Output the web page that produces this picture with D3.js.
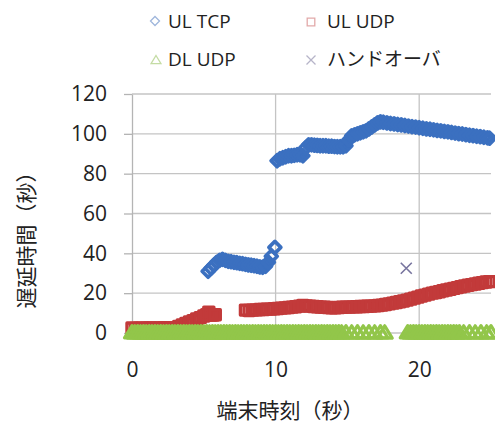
<!DOCTYPE html>
<html>
<head>
<meta charset="utf-8">
<script src="https://cdn.jsdelivr.net/npm/d3@7"></script>
<style>
  html, body { margin: 0; padding: 0; background: #fff; }
  svg { display: block; }
</style>
</head>
<body>
<svg id="chart" width="495" height="432"></svg>
<script>
// Delay (s) against terminal time (s), one [time, delay] pair per sample.
const ulTcp = [
  [5.3,31],[5.5,32.5],[5.7,34],[5.9,35.5],[6.1,36.5],[6.3,37],[6.5,36.5],[6.7,36],
  [6.9,35.8],[7.1,35.5],[7.3,35.3],[7.5,35],[7.7,34.8],[7.9,34.5],[8.1,34.2],[8.3,34],
  [8.5,33.8],[8.7,33.5],[8.9,33.2],[9.1,33],[9.3,33.5],[9.5,35.5],[9.7,38.5],[9.95,43],
  [10.1,86.5],[10.3,87.5],[10.5,88],[10.7,88.5],[10.9,89],[11.1,89],[11.3,89.2],[11.5,89.5],
  [11.7,89.5],[11.9,89],[12.1,93],[12.3,94.5],[12.5,94.5],[12.7,94.3],[12.9,94.2],[13.1,94],
  [13.3,94],[13.5,94],[13.7,93.8],[13.9,93.8],[14.1,93.6],[14.3,93.5],[14.5,93.5],[14.7,93.5],
  [14.9,94],[15.1,97],[15.3,99],[15.5,99.5],[15.7,100],[15.9,100.5],[16.1,101],[16.3,101.5],
  [16.5,102.5],[16.7,103.5],[16.9,104.5],[17.1,105.5],[17.3,106],[17.5,105.8],[17.75,105.5],
  [18,105.2],[18.25,105],[18.5,104.7],[18.75,104.5],[19,104.2],[19.25,103.9],[19.5,103.6],
  [19.75,103.4],[20,103.1],[20.25,102.8],[20.5,102.5],[20.75,102.3],[21,102],[21.25,101.7],
  [21.5,101.5],[21.75,101.2],[22,101],[22.25,100.7],[22.5,100.4],[22.75,100.1],[23,99.9],
  [23.25,99.6],[23.5,99.3],[23.75,99.1],[24,98.8],[24.25,98.6],[24.5,98.3],[24.75,98],[24.9,97.8]
];

const ulUdp = [
  [0,2.5],[0.25,2.3],[0.5,2.4],[0.75,2.5],[1,2.4],[1.25,2.5],[1.5,2.5],[1.75,2.4],[2,2.5],
  [2.25,2.6],[2.5,2.5],[2.75,2.6],[3,2.7],[3.25,3.3],[3.5,4],[3.75,4.8],[4,5.5],[4.25,6.2],
  [4.5,7],[4.75,7.7],[5,8.5],[5.2,9.2],[5.35,10.5],[5.5,9],[5.65,9],[5.8,9.2],
  [7.9,11.5],[8.15,11.3],[8.4,11.5],[8.65,11.6],[8.9,11.8],[9.15,11.8],[9.4,12],[9.65,12],
  [9.9,12.2],[10.15,12.3],[10.4,12.5],[10.65,12.6],[10.9,12.8],[11.15,13],[11.4,13.2],
  [11.65,13.5],[11.9,13.8],[12.15,13.6],[12.4,13.5],[12.65,13.3],[12.9,13.2],[13.15,13],
  [13.4,12.9],[13.65,12.8],[13.9,12.7],[14.15,12.7],[14.4,12.8],[14.65,12.9],[14.9,13],
  [15.15,13],[15.4,13.1],[15.65,13.2],[15.9,13.3],[16.15,13.3],[16.4,13.4],[16.65,13.5],
  [16.9,13.6],[17.15,13.8],[17.4,14],[17.65,14.3],[17.9,14.6],[18.15,15],[18.4,15.3],
  [18.65,15.7],[18.9,16.1],[19.15,16.5],[19.4,17],[19.65,17.5],[19.9,18],[20.15,18.6],
  [20.4,19],[20.65,19.5],[20.9,20],[21.15,20.3],[21.4,20.7],[21.65,21.2],[21.9,21.6],
  [22.15,22],[22.4,22.4],[22.65,22.8],[22.9,23.2],[23.15,23.6],[23.4,24],[23.65,24.3],
  [23.9,24.6],[24.15,25],[24.4,25.3],[24.65,25.6],[24.9,25.8]
];

const dlUdp = [
  [0,0.3],[0.2,0.2],[0.4,0.3],[0.6,0.2],[0.8,0.3],[1,0.2],[1.2,0.3],[1.4,0.2],[1.6,0.3],[1.8,0.2],
  [2,0.3],[2.2,0.2],[2.4,0.3],[2.6,0.2],[2.8,0.3],[3,0.2],[3.2,0.3],[3.4,0.2],[3.6,0.3],[3.8,0.2],
  [4,0.3],[4.2,0.2],[4.4,0.3],[4.6,0.2],[4.8,0.3],[5,0.2],[5.2,0.3],[5.4,0.2],[5.6,0.3],[5.8,0.2],
  [6,0.3],[6.2,0.2],[6.4,0.3],[6.6,0.2],[6.8,0.3],[7,0.2],[7.2,0.3],[7.4,0.2],[7.6,0.3],[7.8,0.2],
  [8,0.3],[8.2,0.2],[8.4,0.3],[8.6,0.2],[8.8,0.3],[9,0.2],[9.2,0.3],[9.4,0.2],[9.6,0.3],[9.8,0.2],
  [10,0.3],[10.2,0.2],[10.4,0.3],[10.6,0.2],[10.8,0.3],[11,0.2],[11.2,0.3],[11.4,0.2],[11.6,0.3],
  [11.8,0.2],[12,0.3],[12.2,0.2],[12.4,0.3],[12.6,0.2],[12.8,0.3],[13,0.2],[13.2,0.3],[13.4,0.2],
  [13.6,0.3],[13.8,0.2],[14,0.3],[14.2,0.2],[14.4,0.3],[14.6,0.2],[14.9,0.3],[15.3,0.2],
  [15.7,0.3],[16.1,0.2],[16.5,0.3],[16.9,0.2],[17.3,0.3],[17.6,0.2],
  [19.2,0.3],[19.4,0.2],[19.6,0.3],[19.8,0.2],[20,0.3],[20.2,0.2],[20.4,0.3],[20.6,0.2],[20.8,0.3],
  [21,0.2],[21.2,0.3],[21.4,0.2],[21.6,0.3],[21.8,0.2],[22,0.3],[22.2,0.2],[22.4,0.3],[22.6,0.2],
  [22.8,0.3],[23.1,0.2],[23.5,0.3],[23.9,0.2],[24.3,0.3],[24.7,0.2],[25,0.3]
];

const handover = [[19.1, 32.5]];

const xTicks = [0, 10, 20];
const yTicks = [0, 20, 40, 60, 80, 100, 120];

const seriesNames = ["UL TCP", "UL UDP", "DL UDP", "ハンドオーバ"];
const xTitle = "端末時刻（秒）";
const yTitle = "遅延時間（秒）";

const colors = { tcp: "#3b70c0", udpUl: "#c23a3a", udpDl: "#92c64a", ho: "#77749e" };
const legendColors = { tcp: "#9fb6dc", udpUl: "#e2a9a9", udpDl: "#c4dca4", ho: "#b6b4c8" };
const latin = "'Open Sans', 'Noto Sans CJK JP', sans-serif";
const cjk = "'Noto Sans CJK JP', sans-serif";

const svg = d3.select("#chart");
const x = d3.scaleLinear().domain([0, 25]).range([132, 491]);
const y = d3.scaleLinear().domain([0, 120]).range([333, 94]);

// gridlines
const grid = svg.append("g").attr("stroke", "#c4c4c4").attr("stroke-width", 1.3);
grid.selectAll("line.h").data(yTicks).join("line")
  .attr("x1", x(0)).attr("x2", x(25)).attr("y1", d => y(d)).attr("y2", d => y(d));
grid.selectAll("line.v").data(xTicks.filter(d => d > 0)).join("line")
  .attr("x1", d => x(d)).attr("x2", d => x(d)).attr("y1", y(120)).attr("y2", y(0));

// y axis
const yAxis = svg.append("g").attr("transform", `translate(${x(0)},0)`)
  .call(d3.axisLeft(y).tickValues(yTicks).tickSize(8).tickPadding(17).tickSizeOuter(0));
yAxis.select(".domain").attr("stroke", "#b4b4b4").attr("stroke-width", 1.3);
yAxis.selectAll(".tick line").attr("stroke", "#b4b4b4").attr("stroke-width", 1.3);
yAxis.selectAll(".tick text").attr("font-family", latin).attr("font-size", 21).attr("fill", "#222");

// x axis labels
const xAxis = svg.append("g").attr("transform", `translate(0,${y(0)})`)
  .call(d3.axisBottom(x).tickValues(xTicks).tickSize(0).tickPadding(29));
xAxis.select(".domain").remove();
xAxis.selectAll(".tick text").attr("font-family", latin).attr("font-size", 21).attr("fill", "#222");

// marker shapes
const diamond = r => `M0,${-r}L${r},0L0,${r}L${-r},0Z`;
const square = r => `M${-r},${-r}H${r}V${r}H${-r}Z`;
const triangle = r => `M0,${-r}L${r * 1.1},${r * 0.8}L${-r * 1.1},${r * 0.8}Z`;
const cross = r => `M${-r},${-r}L${r},${r}M${-r},${r}L${r},${-r}`;

function scatter(data, pathD, color, width) {
  svg.append("g").selectAll("path").data(data).join("path")
    .attr("transform", d => `translate(${x(d[0])},${y(d[1])})`)
    .attr("d", pathD)
    .attr("fill", "none")
    .attr("stroke", color)
    .attr("stroke-width", width)
    .attr("stroke-linejoin", "round");
}

scatter(ulTcp, diamond(6), colors.tcp, 3.6);
scatter(ulUdp, square(5), colors.udpUl, 3.4);
scatter(dlUdp, triangle(6.8), colors.udpDl, 3.2);
scatter(handover, cross(5.5), colors.ho, 1.6);

// legend
const legendItems = [
  { name: seriesNames[0], d: diamond(4.5), c: legendColors.tcp, w: 1.3, mx: 155, my: 21, tx: 168, ty: 28 },
  { name: seriesNames[1], d: square(3.8), c: legendColors.udpUl, w: 1.3, mx: 311, my: 22, tx: 327, ty: 28 },
  { name: seriesNames[2], d: triangle(4.5), c: legendColors.udpDl, w: 1.3, mx: 156, my: 60, tx: 168, ty: 66 },
  { name: seriesNames[3], d: cross(4.5), c: legendColors.ho, w: 1.3, mx: 311, my: 60, tx: 327, ty: 66 }
];
const lg = svg.append("g").selectAll("g").data(legendItems).join("g");
lg.append("path")
  .attr("transform", d => `translate(${d.mx},${d.my})`)
  .attr("d", d => d.d).attr("fill", "none").attr("stroke", d => d.c).attr("stroke-width", d => d.w);
lg.append("text")
  .attr("x", d => d.tx).attr("y", d => d.ty)
  .attr("font-family", latin).attr("font-size", 19).attr("fill", "#222")
  .text(d => d.name);

// axis titles
svg.append("text")
  .attr("x", 290).attr("y", 418)
  .attr("text-anchor", "middle")
  .attr("font-family", cjk).attr("font-size", 21).attr("fill", "#222")
  .text(xTitle);
svg.append("text")
  .attr("transform", "translate(25,235) rotate(-90)")
  .attr("text-anchor", "middle").attr("dominant-baseline", "central")
  .attr("font-family", cjk).attr("font-size", 21).attr("fill", "#222")
  .text(yTitle);
</script>
</body>
</html>
